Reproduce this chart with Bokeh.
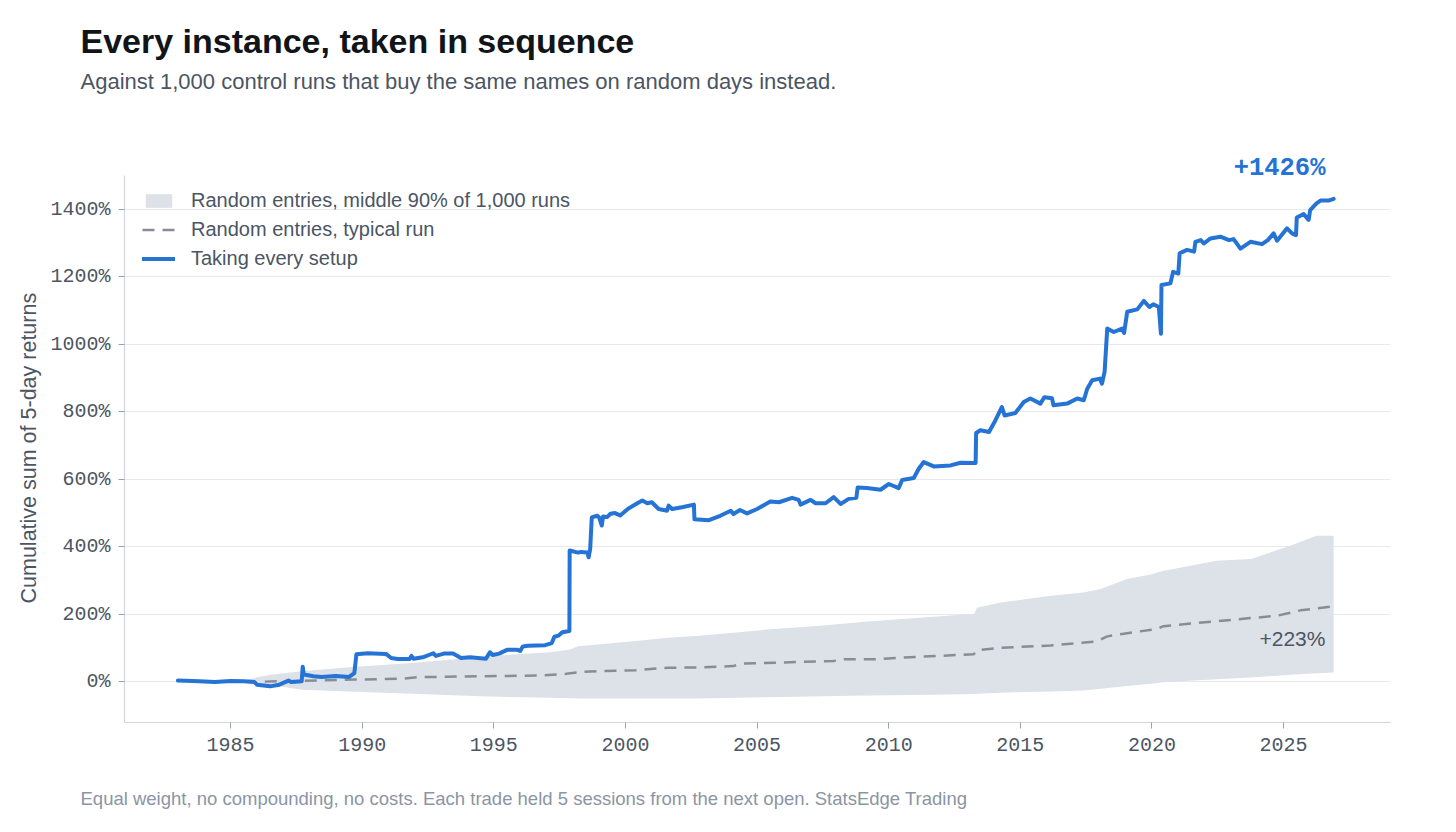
import math
from bokeh.plotting import figure
from bokeh.models import (Label, Legend, LegendItem, FixedTicker, PrintfTickFormatter,
                          Range1d, ColumnDataSource, Title)
from bokeh.embed import file_html
from bokeh.resources import INLINE

# ---------------- data ----------------
setup_years = [1983.00, 1983.8, 1984.4, 1985.0, 1985.5, 1985.9, 1986.0, 1986.5, 1986.85, 1987.2,
               1987.3, 1987.7, 1987.74, 1987.78, 1988.15, 1988.45, 1989.0, 1989.5, 1989.7, 1989.78,
               1990.2, 1990.9, 1991.1, 1991.35, 1991.8, 1991.87, 1991.95, 1992.3, 1992.7, 1992.8,
               1993.1, 1993.45, 1993.75, 1994.1, 1994.7, 1994.85, 1994.95, 1995.2, 1995.5, 1995.9,
               1996.0, 1996.1, 1996.3, 1996.95, 1997.2, 1997.3, 1997.45, 1997.6, 1997.87, 1997.88,
               1998.2, 1998.3, 1998.55, 1998.6, 1998.66, 1998.72, 1998.93, 1999.0, 1999.1, 1999.15,
               1999.3, 1999.43, 1999.6, 1999.8, 2000.1, 2000.45, 2000.64, 2000.83, 2001.0, 2001.26,
               2001.58, 2001.64, 2001.77, 2002.15, 2002.6, 2002.62, 2003.17, 2003.6, 2004.0, 2004.1,
               2004.35, 2004.62, 2005.0, 2005.5, 2005.83, 2006.33, 2006.58, 2006.65, 2007.03, 2007.22,
               2007.6, 2007.91, 2008.17, 2008.48, 2008.77, 2008.82, 2009.17, 2009.69, 2010.0, 2010.38,
               2010.51, 2010.95, 2011.14, 2011.33, 2011.71, 2012.35, 2012.73, 2013.3, 2013.32, 2013.48,
               2013.81, 2014.05, 2014.3, 2014.4, 2014.81, 2015.13, 2015.38, 2015.76, 2015.91, 2016.2,
               2016.26, 2016.78, 2017.16, 2017.41, 2017.54, 2017.73, 2018.02, 2018.1, 2018.2, 2018.3,
               2018.55, 2018.86, 2018.94, 2019.06, 2019.44, 2019.69, 2019.9, 2020.05, 2020.26, 2020.34,
               2020.36, 2020.7, 2020.8, 2021.0, 2021.05, 2021.33, 2021.6, 2021.65, 2021.85, 2021.97,
               2022.22, 2022.6, 2022.92, 2023.1, 2023.36, 2023.74, 2024.18, 2024.4, 2024.62, 2024.75,
               2025.13, 2025.32, 2025.47, 2025.5, 2025.76, 2025.95, 2026.01, 2026.25, 2026.4, 2026.71,
               2026.9]
setup_cum = [4, 2, 0, 3, 2, 0, -8, -13, -8, 4,
             0, 2, 45, 22, 17, 15, 18, 15, 26, 82,
             85, 83, 71, 68, 68, 77, 69, 73, 85, 77,
             84, 84, 71, 73, 69, 88, 80, 84, 95, 95,
             92, 105, 107, 109, 115, 134, 137, 147, 151, 389,
             383, 385, 383, 369, 394, 487, 492, 487, 463, 490,
             488, 498, 500, 493, 513, 529, 537, 529, 532, 512,
             507, 522, 512, 517, 525, 482, 479, 492, 507, 497,
             509, 499, 512, 534, 532, 545, 539, 525, 539, 529,
             529, 547, 527, 542, 545, 576, 574, 569, 586, 574,
             598, 604, 631, 651, 638, 641, 649, 648, 737, 745,
             740, 774, 814, 789, 796, 829, 839, 824, 843, 840,
             819, 824, 839, 834, 868, 893, 898, 883, 918, 1046,
             1036, 1046, 1033, 1096, 1103, 1128, 1110, 1118, 1110, 1031,
             1175, 1180, 1214, 1209, 1269, 1279, 1274, 1303, 1308, 1298,
             1313, 1318, 1308, 1311, 1283, 1303, 1296, 1308, 1328, 1306,
             1343, 1328, 1323, 1375, 1385, 1368, 1397, 1417, 1425, 1425,
             1430]

band_years = [1985.6, 1986.0, 1986.6, 1987.7, 1989.75, 1991.9, 1994.5, 1995.25, 1997.15, 1997.9,
              1998.2, 2000.4, 2001.6, 2002.8, 2005.4, 2007.5, 2009.2, 2011.7, 2013.25, 2013.35,
              2014.25, 2016.15, 2017.4, 2018.05, 2019.05, 2019.95, 2020.45, 2022.45, 2023.75, 2025.25,
              2026.25, 2026.9]
band_upper = [6, 14, 22, 32, 45, 56, 74, 79, 88, 96,
              106, 121, 131, 137, 155, 167, 179, 193, 202, 220,
              235, 255, 265, 275, 305, 318, 329, 359, 364, 403,
              433, 433]
band_lower = [-3, -6, -10, -23, -29, -35, -42, -44, -47, -48,
              -49, -49, -49, -49, -45, -42, -40, -38, -36, -35,
              -32, -28, -25, -20, -12, -5, -1, 8, 13, 21,
              26, 28]

typical_years = [1986.3, 1987.5, 1989.75, 1991.6, 1992.1, 1994.55, 1996.7, 1997.75, 1998.3, 2000.4,
                 2001.6, 2002.8, 2004.1, 2004.35, 2007.9, 2008.3, 2009.55, 2010.45, 2013.23, 2013.36,
                 2014.24, 2016.14, 2017.9, 2018.3, 2018.93, 2020.2, 2020.44, 2021.2, 2023.74, 2024.75,
                 2025.64, 2026.9]
typical_cum = [1, 3, 7, 10, 14, 17, 19, 24, 30, 35,
               42, 43, 47, 54, 62, 67, 67, 72, 82, 94,
               101, 108, 120, 135, 143, 157, 165, 171, 189, 196,
               212, 224]

x_ticks = [1985, 1990, 1995, 2000, 2005, 2010, 2015, 2020, 2025]
y_ticks = [0, 200, 400, 600, 800, 1000, 1200, 1400]

title_text = "Every instance, taken in sequence"
subtitle_text = "Against 1,000 control runs that buy the same names on random days instead."
footer_text = "Equal weight, no compounding, no costs. Each trade held 5 sessions from the next open.  StatsEdge Trading"
ylabel_text = "Cumulative sum of 5-day returns"
legend_labels = ["Random entries, middle 90% of 1,000 runs", "Random entries, typical run", "Taking every setup"]
end_setup_text = "+1426%"
end_typical_text = "+223%"

# ---------------- style ----------------
BLUE = "#2473d5"
BAND = "#dde1e8"
DASH = "#878d98"
TEXT = "#4b5563"
AXIS = "#d1d5db"
GRID = "#e6eaf0"
SANS = "Liberation Sans"
MONO = "Liberation Mono"

# frame: left 124, bottom 722, top ~98 (the y axis line itself stops at 1500%)
p = figure(width=1440, height=816, output_backend="svg", toolbar_location=None,
           x_range=Range1d(1980.97, 2029.06), y_range=Range1d(-120, 1727.2),
           min_border_left=124, min_border_right=50, min_border_top=98, min_border_bottom=94,
           title=None)
p.outline_line_color = None
p.background_fill_color = "white"
p.border_fill_color = "white"

band_src = ColumnDataSource(dict(x=band_years, lo=band_lower, hi=band_upper))
r_band = p.varea(x="x", y1="lo", y2="hi", source=band_src, fill_color=BAND, fill_alpha=1.0)

typ_src = ColumnDataSource(dict(x=typical_years, y=typical_cum))
r_typ = p.line(x="x", y="y", source=typ_src, line_color=DASH, line_width=2.5, line_dash="12 8")

setup_src = ColumnDataSource(dict(x=setup_years, y=setup_cum))
r_setup = p.line(x="x", y="y", source=setup_src, line_color=BLUE, line_width=4,
                 line_join="round", line_cap="round")

# axes
for ax in (p.xaxis[0], p.yaxis[0]):
    ax.axis_line_color = AXIS
    ax.axis_line_width = 1.2
    ax.major_tick_line_color = "#9aa1ab"
    ax.major_tick_out = 6
    ax.major_tick_in = 0
    ax.minor_tick_line_color = None
    ax.major_label_text_font = MONO
    ax.major_label_text_font_size = "20px"
    ax.major_label_text_color = TEXT
p.xaxis.ticker = FixedTicker(ticks=x_ticks)
p.xaxis.formatter = PrintfTickFormatter(format="%d")
p.xaxis.major_label_standoff = 9
p.yaxis.ticker = FixedTicker(ticks=y_ticks)
p.yaxis.formatter = PrintfTickFormatter(format="%d%%")
p.yaxis.major_label_standoff = 8
p.yaxis.bounds = (-120, 1500)
p.xgrid.grid_line_color = None
p.ygrid.grid_line_color = GRID
p.ygrid.grid_line_width = 1.2

# legend
legend = Legend(items=[LegendItem(label=legend_labels[0], renderers=[r_band]),
                       LegendItem(label=legend_labels[1], renderers=[r_typ]),
                       LegendItem(label=legend_labels[2], renderers=[r_setup])],
                location=(18, 449.5), margin=0, padding=0, spacing=0,
                label_height=29, glyph_height=17, glyph_width=33, label_standoff=16,
                label_text_font=SANS, label_text_font_size="20px", label_text_color=TEXT,
                border_line_alpha=0, background_fill_alpha=0)
p.add_layout(legend)

# titles outside the frame
p.add_layout(Title(text=subtitle_text, align="left", offset=-44, standoff=10,
                   text_font=SANS, text_font_size="22px", text_font_style="normal",
                   text_color=TEXT), "above")
p.add_layout(Title(text=title_text, align="left", offset=-44, standoff=4,
                   text_font=SANS, text_font_size="34px", text_font_style="bold",
                   text_color="#111418"), "above")

# y axis label (left side, starts 119px above the frame bottom)
p.add_layout(Title(text=ylabel_text, align="left", offset=119, standoff=14,
                   text_font=SANS, text_font_size="21.5px", text_font_style="normal",
                   text_color=TEXT), "left")

# footer: a blank spacer below the x axis, then the note
p.add_layout(Title(text=" ", standoff=29, text_font=SANS, text_font_size="1px",
                   text_color="white"), "below")
p.add_layout(Title(text=footer_text, align="left", offset=-44, standoff=0,
                   text_font=SANS, text_font_size="18.5px", text_font_style="normal",
                   text_color="#8b95a5"), "below")

# end labels (inside frame)
p.add_layout(Label(x=setup_years[-1] - 0.31, y=1519, text=end_setup_text,
                   text_font=MONO, text_font_style="bold", text_font_size="25.5px",
                   text_color=BLUE, text_baseline="middle", text_align="right"))
p.add_layout(Label(x=typical_years[-1] - 0.31, y=130, text=end_typical_text,
                   text_font=SANS, text_font_size="21px", text_color=TEXT,
                   text_baseline="middle", text_align="right"))

open("out.html", "w").write(file_html(p, INLINE))
